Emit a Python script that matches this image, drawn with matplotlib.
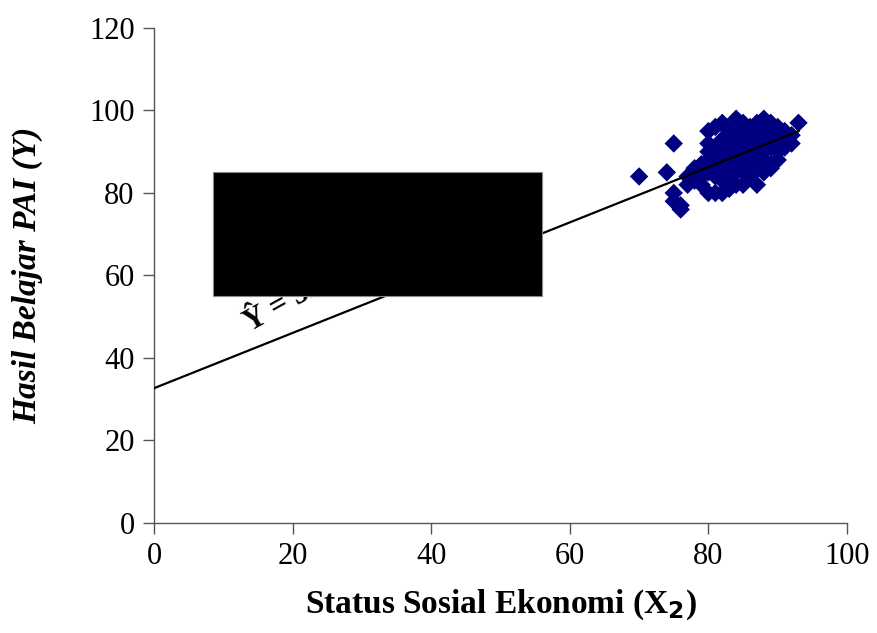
import matplotlib
matplotlib.use("Agg")
import matplotlib.pyplot as plt
from matplotlib.patches import Rectangle
import numpy as np

# Data
x_vals = [70, 74, 75, 75, 75, 76, 76, 77, 77, 78, 78, 78, 79, 79, 79, 80, 80, 80, 80, 80, 80,
          81, 81, 81, 81, 81, 81, 82, 82, 82, 82, 82, 82, 82, 83, 83, 83, 83, 83, 83,
          84, 84, 84, 84, 84, 84, 84, 84, 85, 85, 85, 85, 85, 85, 85, 85,
          86, 86, 86, 86, 86, 86, 86, 87, 87, 87, 87, 87, 87, 87,
          88, 88, 88, 88, 88, 88, 89, 89, 89, 89, 89, 89, 90, 90, 90, 90, 90,
          91, 91, 91, 92, 92, 93, 88, 83]
y_vals = [84, 85, 92, 80, 78, 77, 76, 82, 84, 83, 85, 86, 84, 87, 82, 80, 85, 88, 90, 92, 95,
          96, 84, 86, 89, 91, 80, 97, 93, 90, 87, 85, 83, 80, 95, 92, 90, 88, 86, 84,
          98, 96, 94, 91, 89, 87, 85, 82, 97, 95, 93, 91, 89, 87, 85, 82,
          96, 94, 92, 90, 88, 86, 84, 97, 95, 93, 91, 89, 87, 82,
          98, 96, 94, 92, 90, 88, 97, 95, 93, 91, 87, 86, 96, 94, 92, 90, 88,
          95, 93, 91, 94, 92, 97, 85, 81]
intercept = 32.67
slope = 0.67
line_x = [0, 93]
x_ticks = [0, 20, 40, 60, 80, 100]
y_ticks = [0, 20, 40, 60, 80, 100, 120]
equation = "Ŷ = 32,67 + 0,67X₂"

plt.rcParams['font.family'] = ['Liberation Serif', 'DejaVu Serif']

fig = plt.figure(figsize=(8.77, 6.33), dpi=100)
ax = fig.add_axes([0.1756, 0.1738, 0.7902, 0.7820])

ax.scatter(x_vals, y_vals, marker='D', s=88, color='#000080', edgecolors='none', zorder=3)
lx = np.array(line_x, dtype=float)
ax.plot(lx, intercept + slope * lx, color='black', lw=1.6, zorder=4)

ax.set_xlim(0, 100)
ax.set_ylim(0, 120)
ax.set_xticks(x_ticks)
ax.set_yticks(y_ticks)
ax.tick_params(axis='both', direction='out', length=8, width=1, color='#555555',
               labelsize=22, pad=6)
for s in ['top', 'right']:
    ax.spines[s].set_visible(False)
for s in ['left', 'bottom']:
    ax.spines[s].set_color('#555555')
    ax.spines[s].set_linewidth(1)

ax.set_xlabel("Status Sosial Ekonomi (X$_\\mathbf{2}$)", fontsize=24, fontweight='bold',
              va='center')
ax.xaxis.set_label_coords(0.5, -0.165)
ax.set_ylabel("Hasil Belajar PAI (Y)", fontsize=24, fontweight='bold', fontstyle='italic',
              va='center')
ax.yaxis.set_label_coords(-0.182, 0.5)

# rotated equation text, partly hidden by a black box
ax.text(14.3, 44.8, equation, fontsize=22, fontweight='bold', rotation=29,
        ha='left', va='bottom', zorder=5, rotation_mode='anchor')
ax.add_patch(Rectangle((8.5, 55.0), 47.5, 30.2, facecolor='black', edgecolor='#888888',
                       lw=0.8, zorder=6))

fig.savefig("out.png", dpi=100)
